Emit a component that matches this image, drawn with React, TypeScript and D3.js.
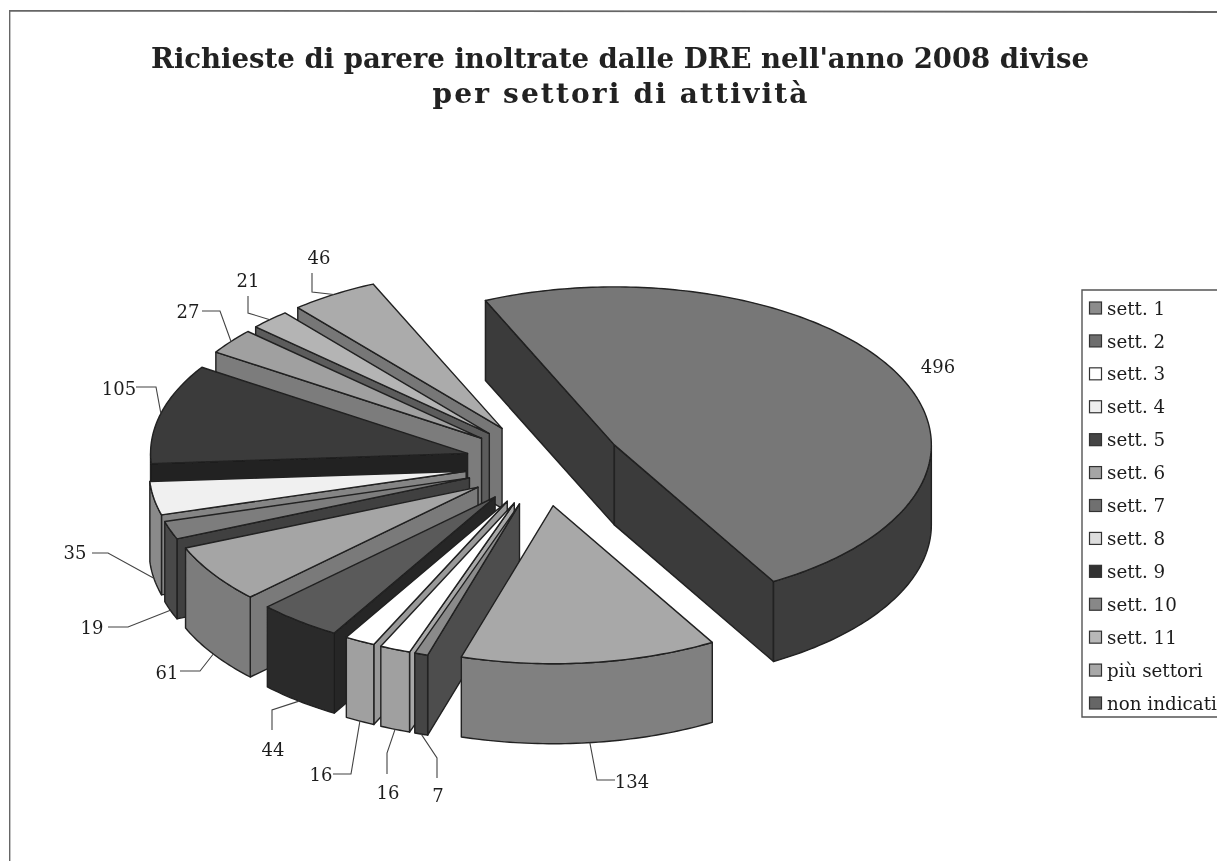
import React from "react";
import * as d3 from "d3";

const W = 1217, H = 861;

const titleLines = ["Richieste di parere inoltrate dalle DRE nell'anno 2008 divise", "per settori di attività"];

// Slices, clockwise from the big wedge
const sliceValues = [496, 134, 7, 16, 16, 44, 61, 19, 35, 105, 27, 21, 46];
const topColors = ["#777777", "#a8a8a8", "#8a8a8a", "#ffffff", "#ffffff", "#5a5a5a", "#a5a5a5", "#7d7d7d", "#f0f0f0", "#3a3a3a", "#a0a0a0", "#b4b4b4", "#ababab"];
const wallColors = ["#3c3c3c", "#808080", "#444444", "#a0a0a0", "#a0a0a0", "#2c2c2c", "#7c7c7c", "#4a4a4a", "#8a8a8a", "#222222", "#7c7c7c", "#5c5c5c", "#777777"];
const faceColors = ["#3a3a3a", "#808080", "#4e4e4e", "#a8a8a8", "#999999", "#262626", "#7a7a7a", "#404040", "#858585", "#222222", "#7c7c7c", "#5c5c5c", "#777777"];

// Label placement: text centre, then the leader elbows (towards the slice)
const labelTexts: [number, number][] = [[938, 367], [632, 782], [438, 796], [388, 793], [321, 775], [273, 750], [167, 673], [92, 628], [75, 553], [119, 389], [188, 312], [248, 281], [319, 258]];
const leaderElbows: [number, number][][] = [[], [[615, 780], [597, 780]], [[437, 778], [437, 758]], [[387, 774], [387, 753]], [[333, 774], [351, 774]], [[272, 730], [272, 710]], [[180, 671], [200, 671]], [[108, 627], [128, 627]], [[92, 553], [108, 553]], [[136, 387], [156, 387]], [[202, 311], [220, 311]], [[248, 296], [248, 313]], [[312, 273], [312, 292]]];

const legendLabels = ["sett. 1", "sett. 2", "sett. 3", "sett. 4", "sett. 5", "sett. 6", "sett. 7", "sett. 8", "sett. 9", "sett. 10", "sett. 11", "più settori", "non indicati"];
const legendColors = ["#8c8c8c", "#6e6e6e", "#ffffff", "#eeeeee", "#444444", "#a5a5a5", "#707070", "#dddddd", "#333333", "#888888", "#b8b8b8", "#a8a8a8", "#666666"];

const CX = 544, CY = 464, RX = 317, RY = 158, DEPTH = 80, EXPLODE_X = 79, EXPLODE_Y = 42;
const START = (-24 * Math.PI) / 180;
const FONT = "'DejaVu Serif', serif";
const INK = "#202020";

const arcs = d3.pie<number>().sort(null).startAngle(START).endAngle(START + 2 * Math.PI)(sliceValues);
const lineGen = d3.line<[number, number]>().curve(d3.curveLinear);

function buildSlice(i: number) {
  const a = arcs[i];
  const mid = (a.startAngle + a.endAngle) / 2;
  const ax = CX + EXPLODE_X * Math.sin(mid);
  const ay = CY - EXPLODE_Y * Math.cos(mid);
  const pt = (t: number, dz = 0): [number, number] => [ax + RX * Math.sin(t), ay - RY * Math.cos(t) + dz];
  const arcPts = (t0: number, t1: number, dz = 0) => {
    const n = Math.max(2, Math.ceil(((t1 - t0) * 180) / Math.PI));
    return d3.range(n + 1).map((k) => pt(t0 + ((t1 - t0) * k) / n, dz));
  };
  const top = lineGen([[ax, ay], ...arcPts(a.startAngle, a.endAngle)])! + "Z";
  const quad = (t: number) =>
    lineGen([[ax, ay], pt(t), pt(t, DEPTH), [ax, ay + DEPTH]])! + "Z";
  const faces: string[] = [];
  if (Math.sin(a.startAngle) < 0) faces.push(quad(a.startAngle));
  if (Math.sin(a.endAngle) > 0) faces.push(quad(a.endAngle));
  const w0 = Math.max(a.startAngle, Math.PI / 2);
  const w1 = Math.min(a.endAngle, (3 * Math.PI) / 2);
  const wall = w1 > w0 ? lineGen([...arcPts(w0, w1), ...arcPts(w0, w1, DEPTH).reverse()])! + "Z" : null;
  const front = Math.cos(mid) < 0;
  const anchor = pt(mid, front ? DEPTH : 0);
  return { top, faces, wall, anchor };
}

const slices = sliceValues.map((_, i) => buildSlice(i));
// Painter's order: big wedge, then rear-left around to the front
const drawOrder = [0, 12, 11, 10, 9, 8, 7, 6, 5, 4, 3, 2, 1];

export default function App() {
  const rowY = d3.scaleLinear().domain([0, 12]).range([308, 703]);
  return (
    <svg width={W} height={H} viewBox={`0 0 ${W} ${H}`} style={{ position: "fixed", left: 0, top: 0, background: "#fff" }}>
      <defs>
        <filter id="soft" x="0" y="0" width="100%" height="100%">
          <feGaussianBlur stdDeviation="0.45" />
        </filter>
      </defs>
      <g filter="url(#soft)">
        <path d={`M${W},12 L9.5,10.5 L9.5,${H}`} fill="none" stroke="#666" strokeWidth={1.8} />
        <text x={620} y={68} textAnchor="middle" fontFamily={FONT} fontWeight={700} fontSize={28} fill="#222" textLength={938} lengthAdjust="spacingAndGlyphs">{titleLines[0]}</text>
        <text x={620} y={103} textAnchor="middle" fontFamily={FONT} fontWeight={700} fontSize={28} fill="#222" textLength={375} lengthAdjust="spacing">{titleLines[1]}</text>

        {drawOrder.map((i) => {
          const s = slices[i];
          return (
            <g key={i} stroke={INK} strokeWidth={1.4} strokeLinejoin="round">
              {s.faces.map((d, k) => <path key={k} d={d} fill={faceColors[i]} />)}
              {s.wall && <path d={s.wall} fill={wallColors[i]} />}
              <path d={s.top} fill={topColors[i]} />
            </g>
          );
        })}

        {sliceValues.map((v, i) => {
          const pts = [...leaderElbows[i], slices[i].anchor] as [number, number][];
          return (
            <g key={i}>
              {leaderElbows[i].length > 0 && <path d={lineGen(pts)!} fill="none" stroke="#444" strokeWidth={1.1} />}
              <text x={labelTexts[i][0]} y={labelTexts[i][1]} dy="0.36em" textAnchor="middle" fontFamily={FONT} fontSize={18} fill="#1c1c1c">{v}</text>
            </g>
          );
        })}

        <path d={`M${W},290 L1082,290 L1082,717 L${W},717`} fill="none" stroke="#555" strokeWidth={1.4} />
        {legendLabels.map((t, i) => (
          <g key={t}>
            <rect x={1089.5} y={rowY(i) - 6} width={12} height={12} fill={legendColors[i]} stroke="#333" strokeWidth={1.2} />
            <text x={1107} y={rowY(i)} dy="0.36em" fontFamily={FONT} fontSize={18.3} fill="#1c1c1c">{t}</text>
          </g>
        ))}
      </g>
    </svg>
  );
}
